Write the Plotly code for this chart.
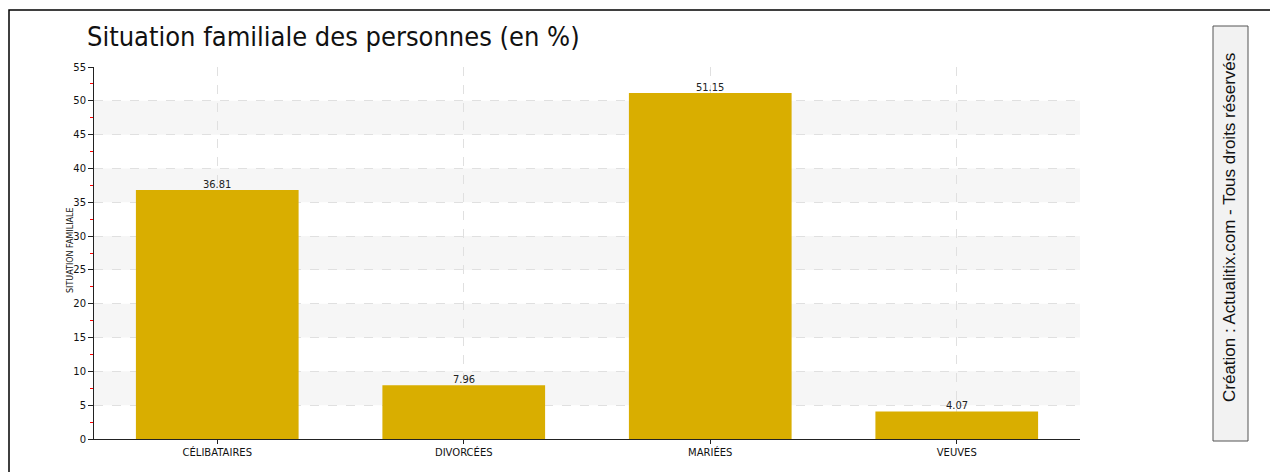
import plotly.graph_objects as go

categories = ["CÉLIBATAIRES", "DIVORCÉES", "MARIÉES", "VEUVES"]
values = [36.81, 7.96, 51.15, 4.07]
value_labels = ["36.81", "7.96", "51.15", "4.07"]
y_ticks = [0, 5, 10, 15, 20, 25, 30, 35, 40, 45, 50, 55]
bands = [(5, 10), (15, 20), (25, 30), (35, 40), (45, 50)]

# page body has an 8px margin; figure coords = screen coords - 8
W, H = 1270, 464
L, R, T, B = 86, 198, 59, 33
OFF = 8

fig = go.Figure()
fig.add_trace(go.Bar(
    x=categories, y=values, width=0.66,
    marker=dict(color="#D9AE00", line=dict(width=0)),
    hoverinfo="x+y",
))

shapes = []
for a, b in bands:
    shapes.append(dict(type="rect", xref="paper", yref="y", x0=0, x1=1, y0=a, y1=b,
                       fillcolor="#F6F6F6", line=dict(width=0), layer="below"))
pw = W - L - R
ph = H - T - B


def px(xs):
    return (xs - OFF - L) / pw


def py(ys):
    return (H - B - (ys - OFF)) / ph


shapes.append(dict(type="rect", xref="paper", yref="paper", x0=px(9), x1=1.5, y0=-0.5, y1=py(10),
                   line=dict(color="black", width=1.5), fillcolor="rgba(0,0,0,0)", layer="above"))
# watermark box
bx0, bx1 = px(1213), px(1248)
by0, by1 = py(441), py(26)
shapes.append(dict(type="rect", xref="paper", yref="paper", x0=bx0, x1=bx1, y0=by0, y1=by1,
                   line=dict(color="#555", width=1), fillcolor="#F2F2F2", layer="below"))

annotations = [dict(
    text="Création : Actualitix.com - Tous droits réservés",
    xref="paper", yref="paper", x=px(1230), y=py(228),
    xanchor="center", yanchor="middle",
    textangle=-90, showarrow=False,
    font=dict(family="Liberation Sans, Arial", size=17, color="#111"),
), dict(
    text="SITUATION FAMILIALE",
    xref="paper", yref="paper", x=px(70), y=py(250),
    xanchor="center", yanchor="middle",
    textangle=-90, showarrow=False,
    font=dict(family="DejaVu Sans", size=8, color="#111"),
)]
for c, v, t in zip(categories, values, value_labels):
    annotations.append(dict(x=c, y=v, text=t, xref="x", yref="y", showarrow=False,
                            yanchor="bottom", yshift=-3,
                            font=dict(family="DejaVu Sans Condensed, DejaVu Sans", size=11, color="#222")))

fig.update_layout(
    width=W, height=H,
    margin=dict(l=L, r=R, t=T, b=B),
    paper_bgcolor="white", plot_bgcolor="white",
    showlegend=False,
    shapes=shapes,
    annotations=annotations,
    title=dict(text="Situation familiale des personnes (en %)", x=(87 - OFF) / W, xanchor="left",
               y=1 - (37 - OFF) / H, yanchor="middle",
               font=dict(family="Liberation Sans Narrow, DejaVu Sans Condensed", size=27, color="#111")),
)
fig.update_xaxes(
    showline=True, linecolor="#222", linewidth=1,
    ticks="outside", ticklen=4, tickcolor="#222",
    showgrid=True, gridcolor="#E0E0E0", griddash="dash", gridwidth=1,
    tickfont=dict(family="DejaVu Sans", size=10, color="#111"),
)
fig.update_yaxes(
    range=[0, 55], tickvals=y_ticks,
    showline=True, linecolor="#222", linewidth=1,
    ticks="outside", ticklen=5, tickcolor="#222",
    minor=dict(dtick=2.5, ticks="outside", ticklen=3, tickcolor="red", showgrid=False),
    showgrid=True, gridcolor="#E0E0E0", griddash="dash", gridwidth=1,
    zeroline=False,
    tickfont=dict(family="DejaVu Sans", size=10, color="#111"),
)

fig.write_html("out.html")
